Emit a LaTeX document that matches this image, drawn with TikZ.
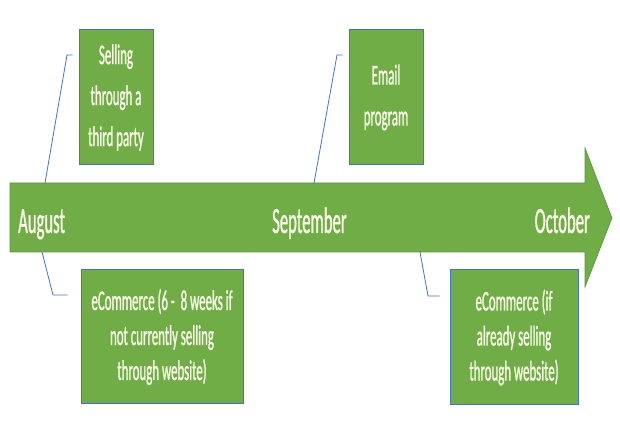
\documentclass[tikz,border=0pt]{standalone}
\usepackage{fontspec}
\setmainfont{Carlito}
\newfontfamily\narrowfont[FakeStretch=0.45, FakeBold=0.8]{Carlito}
\usetikzlibrary{positioning, calc}
\definecolor{mGreen}{HTML}{70AD47}
\definecolor{mDark}{HTML}{5E9438}
\definecolor{mBlue}{HTML}{4472C4}
\definecolor{mText}{HTML}{FBFBEA}

\tikzset{
  eventbox/.style={fill=mGreen, draw=mBlue, line width=1pt, text=mText,
    align=center, inner sep=0pt},
  topfont/.style={font=\narrowfont\fontsize{28.6}{41}\selectfont},
  lowfont/.style={font=\narrowfont\fontsize{28.6}{35}\selectfont},
  month/.style={text=mText, inner sep=0pt, font=\narrowfont\fontsize{37}{40}\selectfont},
  callout/.style={draw=mBlue, line width=0.8pt},
}

\begin{document}
\begin{tikzpicture}[x=1pt, y=1pt]
    \useasboundingbox (0,0) rectangle (620,430);
    % timeline arrow
    \draw[fill=mGreen, draw=mDark, line width=0.6pt]
      (10,247) -- (585,247) -- (585,282) -- (612,212) -- (585,143)
      -- (585,178) -- (10,178) -- cycle;
    \node[month, anchor=base west] (aug) at (18,197) {August};
    \node[month, anchor=base west] (sep) at (272,197) {September};
    \node[month, anchor=base east] (oct) at (590,197) {October};

    % events
    \node[eventbox, topfont, minimum width=74pt, minimum height=135pt] (third) at (116,332.5)
      {Selling\\through a\\third party};
    \node[eventbox, topfont, minimum width=74pt, minimum height=135pt] (email) at (386,332.5)
      {Email\\program};
    \node[eventbox, lowfont, minimum width=162pt, minimum height=134pt] (ecom) at (162,93)
      {eCommerce (6 -\ \ 8 weeks if\\not currently selling\\through website)};
    \node[eventbox, lowfont, minimum width=128pt, minimum height=135pt] (ecomweb) at (514,92.5)
      {eCommerce (if\\already selling\\through website)};

    % callout lines
    \coordinate (t1) at (45,247);
    \coordinate (t2) at (314,247);
    \coordinate (b1) at (42,178);
    \coordinate (b2) at (420,178);
    \draw[callout] (t1) -- (67,375) -- ($(third.west |- 0,375)+(-6,0)$);
    \draw[callout] (t2) -- (337,375) -- ($(email.west |- 0,375)+(-6,0)$);
    \draw[callout] (b1) -- (53,135) -- ($(ecom.west |- 0,135)+(-13,0)$);
    \draw[callout] (b2) -- (428,134) -- ($(ecomweb.west |- 0,134)+(-10,0)$);
\end{tikzpicture}
\end{document}
